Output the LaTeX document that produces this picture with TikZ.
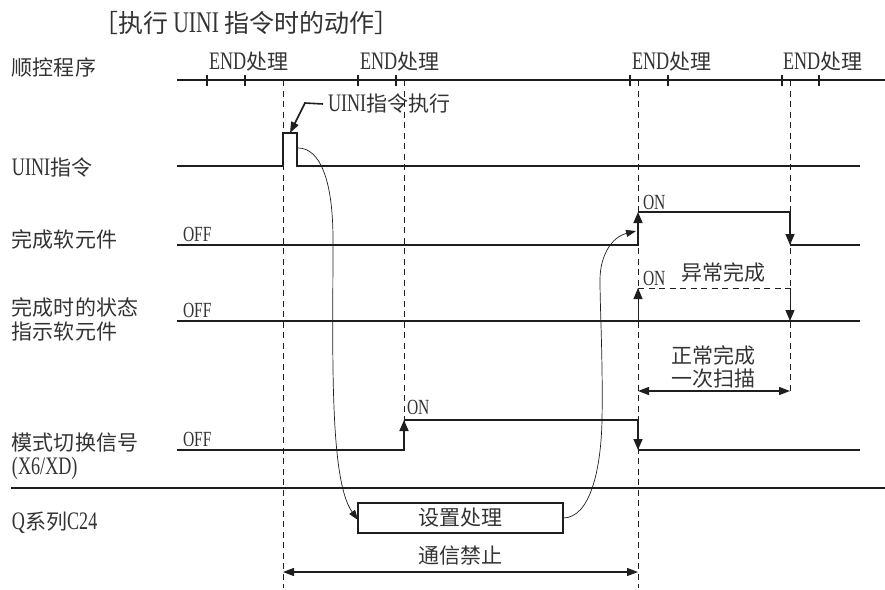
\documentclass[tikz,border=0pt]{standalone}
\usepackage{fontspec}
\setmainfont{Liberation Serif}[FakeStretch=0.72,Scale=1.2]
\newfontfamily\cjk{Noto Sans CJK SC}
\usetikzlibrary{arrows.meta}
\definecolor{txt}{HTML}{333333}
\definecolor{ln}{HTML}{1E1E1E}
\newcommand{\zh}[1]{{\cjk #1}}
\begin{document}
\begin{tikzpicture}[x=1pt,y=-1pt,
  every node/.style={inner sep=0pt,outer sep=0pt,text=txt},
  lbl/.style={font=\fontsize{21}{25}\selectfont},
  onoff/.style={font=\fontsize{18}{21}\selectfont,anchor=base west},
  ttl/.style={font=\fontsize{25}{30}\selectfont},
  scanln/.style={line width=2.2pt,draw=ln},
  tickln/.style={line width=2pt,draw=ln},
  sig/.style={line width=1.6pt,draw=ln},
  thk/.style={line width=2.3pt,draw=ln},
  dsh/.style={line width=1pt,draw=ln,dash pattern=on 6pt off 4.5pt},
  thinln/.style={line width=0.7pt,draw=ln},
  edgearr/.style={-{Triangle[length=11pt,width=9pt]}},
  curvearr/.style={-{Triangle[length=10pt,width=7pt]}},
  dbl/.style={{Triangle[length=11pt,width=8pt]}-{Triangle[length=11pt,width=8pt]},line width=1.2pt,draw=ln},
]
\useasboundingbox (0,0) rectangle (885,589);

% title
\node[ttl,anchor=west] (title) at (93,23) {\zh{［执行} UINI \zh{指令时的动作］}};

% left labels
\node[lbl,anchor=west] (lseq) at (12,68) {\zh{顺控程序}};
\node[lbl,anchor=west] (luini) at (12,168) {UINI\zh{指令}};
\node[lbl,anchor=west] (ldone) at (12,239) {\zh{完成软元件}};
\node[lbl,anchor=west] (lst1) at (12,307) {\zh{完成时的状态}};
\node[lbl,anchor=west] (lst2) at (12,332) {\zh{指示软元件}};
\node[lbl,anchor=west] (lmode1) at (12,443) {\zh{模式切换信号}};
\node[lbl,anchor=west] (lmode2) at (12,468) {(X6/XD)};
\node[lbl,anchor=west] (lq) at (12,523) {Q\zh{系列}C24};

% END labels and scan line
\foreach \x/\n in {209/e1,360/e2,632/e3,783/e4}
  \node[lbl,anchor=west] (\n) at (\x,62) {END\zh{处理}};
\coordinate (scanL) at (177,80);
\coordinate (scanR) at (885,80);
\draw[scanln] (scanL) -- (scanR);
\foreach \x in {207,245,358,396,630,668,782,819}
  \draw[tickln] (\x,75) -- (\x,86);

% dashed timing lines
\coordinate (d1t) at (283,80);  \coordinate (d1b) at (283,588);
\coordinate (d2t) at (404,80);  \coordinate (d2b) at (404,445);
\coordinate (d3t) at (638,80);  \coordinate (d3b) at (638,588);
\coordinate (d4t) at (790,80);  \coordinate (d4b) at (790,393);
\draw[dsh] (d1t) -- (d1b);
\draw[dsh] (d2t) -- (d2b);
\draw[dsh] (d3t) -- (d3b);
\draw[dsh] (d4t) -- (d4b);

% UINI instruction signal
\coordinate (u0) at (177,166);
\coordinate (u1) at (283,166);
\coordinate (u2) at (283,133);
\coordinate (u3) at (297,133);
\coordinate (u4) at (297,166);
\coordinate (u5) at (860,166);
\draw[sig,line join=miter] (u0) -- (u1) -- (u2) -- (u3) -- (u4) -- (u5);

% callout
\node[lbl,anchor=west] (cmd) at (328,104) {UINI\zh{指令执行}};
\coordinate (ck) at (305,103);
\coordinate (ptop) at (290,133);
\draw[sig,-{Triangle[length=11pt,width=8pt]}] ([xshift=-5pt]cmd.west) -- (ck) -- (ptop);

% completion device
\coordinate (c0) at (177,245);
\coordinate (c1) at (638,245);
\coordinate (c2) at (638,212);
\coordinate (c3) at (790,212);
\coordinate (c4) at (790,245);
\coordinate (c5) at (860,245);
\draw[sig,edgearr] (c0) -- (c1) -- (c2);
\draw[sig,edgearr] (c2) -- (c3) -- (c4);
\draw[sig] (c4) -- (c5);
\node[onoff] (coff) at (183,241) {OFF};
\node[onoff] (con) at (643,209) {ON};

% status device
\coordinate (s0) at (177,321);
\coordinate (s1) at (860,321);
\draw[thk] (s0) -- (s1);
\coordinate (sa) at (638,321);
\coordinate (sb) at (638,288);
\coordinate (sc) at (790,288);
\coordinate (sd) at (790,321);
\draw[line width=1pt,draw=ln,edgearr] (sa) -- (sb);
\draw[dsh] (sb) -- (sc);
\draw[line width=1pt,draw=ln,edgearr] (sc) -- (sd);
\node[onoff] (soff) at (183,317) {OFF};
\node[onoff] (son) at (643,285) {ON};
\node[lbl] (abn) at (723,272) {\zh{异常完成}};
\node[lbl] (nrm1) at (713,355) {\zh{正常完成}};
\node[lbl] (nrm2) at (713,379) {\zh{一次扫描}};
\coordinate (n1) at (638,391);
\coordinate (n2) at (790,391);
\draw[dbl] (n1) -- (n2);

% mode switch signal
\coordinate (m0) at (177,450);
\coordinate (m1) at (404,450);
\coordinate (m2) at (404,420);
\coordinate (m3) at (638,420);
\coordinate (m4) at (638,450);
\coordinate (m5) at (860,450);
\draw[sig,edgearr] (m0) -- (m1) -- (m2);
\draw[sig,edgearr] (m2) -- (m3) -- (m4);
\draw[sig] (m4) -- (m5);
\node[onoff] (moff) at (183,446) {OFF};
\node[onoff] (mon) at (407,414) {ON};

% separator
\coordinate (sepL) at (11,488);
\coordinate (sepR) at (885,488);
\draw[line width=2.5pt,draw=ln] (sepL) -- (sepR);

% Q series C24
\node[lbl,draw=ln,line width=1.3pt,minimum width=205pt,minimum height=30pt] (setup) at (460.5,518) {\zh{设置处理}};
\node[lbl] (comm) at (460,556) {\zh{通信禁止}};
\coordinate (a1) at (283,572);
\coordinate (a2) at (638,572);
\draw[dbl] (a1) -- (a2);

% curves
\coordinate (pfall) at (298,148);
\draw[thinln,curvearr] (pfall) .. controls (320,148) and (333,180) .. (333,240)
  .. controls (333,350) and (329,480) .. ([yshift=-2pt]setup.west);
\coordinate (cin) at (636,231);
\draw[thinln,curvearr] (setup.east) .. controls (590,518) and (601,470) .. (602,420)
  .. controls (603,360) and (600,310) .. (600,280)
  .. controls (600,255) and (612,237) .. (cin);
\end{tikzpicture}
\end{document}
